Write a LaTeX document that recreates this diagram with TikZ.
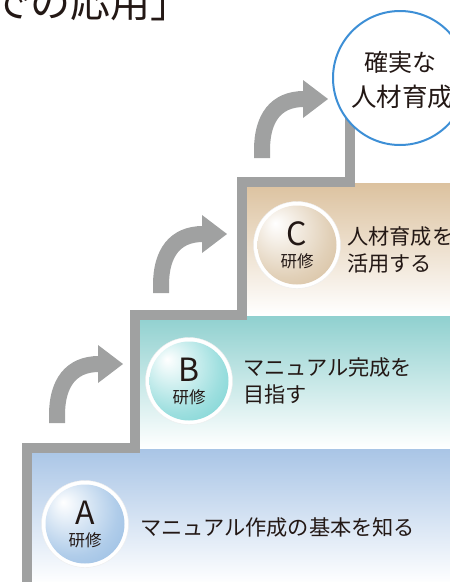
\documentclass[tikz,border=0pt]{standalone}
\usepackage{fontspec}
\setmainfont{Noto Sans CJK JP}
\definecolor{stepgray}{HTML}{A0A1A1}
\definecolor{txt}{HTML}{231815}
\definecolor{panelA}{HTML}{A9C5E6}
\definecolor{panelB}{HTML}{8FD0CF}
\definecolor{panelC}{HTML}{DCC29F}
\definecolor{ballAc}{HTML}{6FA3D8}
\definecolor{ballBc}{HTML}{3CBFBF}
\definecolor{ballCc}{HTML}{C4A272}
\definecolor{goalblue}{HTML}{3D8FD6}
\pgfdeclareradialshading{ballAsh}{\pgfpoint{-14bp}{14bp}}{color(0bp)=(white); color(28bp)=(ballAc!55); color(64bp)=(ballAc)}
\pgfdeclareradialshading{ballBsh}{\pgfpoint{-14bp}{14bp}}{color(0bp)=(white); color(28bp)=(ballBc!50); color(64bp)=(ballBc)}
\pgfdeclareradialshading{ballCsh}{\pgfpoint{-14bp}{14bp}}{color(0bp)=(white); color(28bp)=(ballCc!50); color(64bp)=(ballCc)}
\tikzset{
  stair/.style={line width=10pt, stepgray, miter limit=10},
  ring/.style={circle, minimum size=87pt, inner sep=0pt, fill=white, draw=black!7},
  ball/.style={circle, minimum size=79pt, inner sep=0pt, shade, shading=#1},
  letter/.style={font=\fontsize{32}{32}\selectfont, text=txt, inner sep=0pt},
  kenshu/.style={font=\fontsize{16.5}{16.5}\selectfont, text=txt, inner sep=0pt},
  body/.style={font=\fontsize{21.2}{27}\selectfont, text=txt, inner sep=0pt, align=left, anchor=west},
  uparrow/.pic={
    \draw[line width=16pt, stepgray] (0,0) -- (0,-8) .. controls (0,-40) and (14,-59) .. (42,-59);
    \fill[stepgray] (41,-78) -- (66,-59) -- (41,-40) -- cycle;
  }
}
\begin{document}
\begin{tikzpicture}[x=1pt, y=-1pt]
\useasboundingbox (0,0) rectangle (450,582);
\clip (0,0) rectangle (450,582);
% panels
\shade[top color=panelA, middle color=panelA!30, bottom color=white] (32,449) rectangle (452,584);
\shade[top color=panelB, middle color=panelB!30, bottom color=white] (140,315) rectangle (452,448);
\shade[top color=panelC, middle color=panelC!30, bottom color=white] (247,183) rectangle (452,315);
% staircase
\draw[stair] (27,590) -- (27,448) -- (135,448) -- (135,315) -- (242,315) -- (242,182) -- (350,182) -- (350,110);
% arrows
\pic at (57,423) {uparrow};
\pic at (161,293) {uparrow};
\pic at (262,158) {uparrow};
% A
\node[ring] (ringA) at (85,524) {};
\node[ball=ballAsh] (ballA) at (85,524) {};
\node[letter] (letA) at (85,513) {A};
\node[kenshu] (kenA) at (85,540) {研修};
\node[body] (txtA) at (140,528) {マニュアル作成の基本を知る};
% B
\node[ring] (ringB) at (189,381) {};
\node[ball=ballBsh] (ballB) at (189,381) {};
\node[letter] (letB) at (189,370) {B};
\node[kenshu] (kenB) at (189,397) {研修};
\node[body] (txtB) at (243,381) {マニュアル完成を\\目指す};
% C
\node[ring] (ringC) at (297,245) {};
\node[ball=ballCsh] (ballC) at (297,245) {};
\node[letter] (letC) at (297,234) {C};
\node[kenshu] (kenC) at (297,261) {研修};
\node[body] (txtC) at (347,250) {人材育成を\\活用する};
% goal
\node[circle, minimum size=134pt, inner sep=0pt, fill=white, draw=goalblue, line width=2pt] (goal) at (400,78) {};
\node[font=\fontsize{24}{24}\selectfont, text=txt, inner sep=0pt] (goal1) at (400,62) {確実な};
\node[font=\fontsize{25.5}{25.5}\selectfont, text=txt, inner sep=0pt] (goal2) at (402,97) {人材育成};
% title fragment
\node[font=\fontsize{40}{40}\selectfont, text=txt, inner sep=0pt, anchor=base west] (title) at (-10,17) {での応用」};
\end{tikzpicture}
\end{document}
